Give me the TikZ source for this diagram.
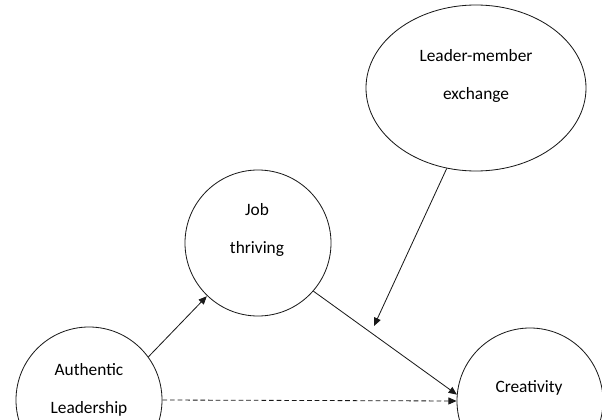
\documentclass[tikz,border=0pt]{standalone}
\usepackage{fontspec}
\setmainfont{Carlito}
\usetikzlibrary{shapes.geometric,arrows.meta}
\colorlet{lineGray}{black!90}

\begin{document}
\begin{tikzpicture}[x=0.03cm,y=-0.03cm,
    construct/.style={draw=lineGray,line width=0.7pt,circle,minimum size=4.38cm,inner sep=0pt},
    conceptText/.style={align=center,font=\fontsize{14.8}{33}\selectfont,text=black},
    link/.style={draw=lineGray,line width=0.7pt,-{Triangle[length=7pt,width=6pt]}}]
    \clip (0,0) rectangle (602,420);
    \fill[white] (0,0) rectangle (602,420);
    % constructs
    \node[construct] (al) at (89,400){};
    \node[construct] (jt) at (258,243){};
    \node[construct] (cr) at (530,401){};
    \node[draw=lineGray,line width=0.7pt,ellipse,minimum width=6.6cm,minimum height=4.98cm,inner sep=0pt] (lmx) at (476,88){};
    \node[conceptText] (alText) at (89,390){Authentic\\Leadership};
    \node[conceptText] (jtText) at (257,230){Job\\thriving};
    \node[conceptText] (lmxText) at (476,76){Leader-member\\exchange};
    \node[conceptText] (crText) at (529,388){Creativity};
    % paths
    \coordinate (moderate) at (374,326);
    \draw[link] (al.36) -- ([shift={(-4,-3)}]jt.230);
    \draw[link] (jt.-41) -- (cr.175);
    \draw[link] (lmx.-110) -- (moderate);
    \draw[link,dash pattern=on 4pt off 2.5pt] (al.east) -- (cr.west);
\end{tikzpicture}
\end{document}
